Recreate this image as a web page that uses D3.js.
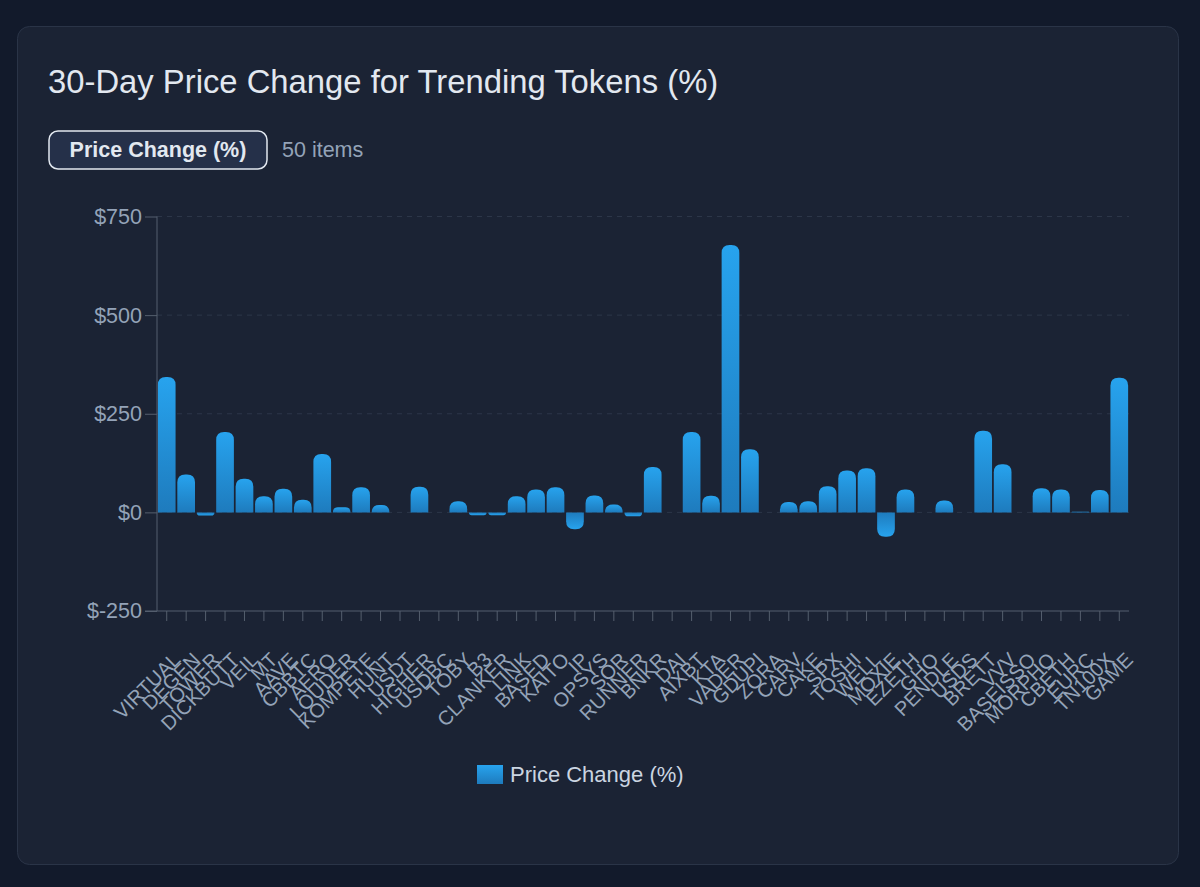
<!DOCTYPE html>
<html>
<head>
<meta charset="utf-8">
<script src="https://cdn.jsdelivr.net/npm/d3@7"></script>
<style>
  html, body { margin: 0; padding: 0; background: #121a2b; }
  svg { display: block; font-family: "Liberation Sans", Arial, Helvetica, sans-serif; }
</style>
</head>
<body>
<script>
/*--- data ---*/
let tokens = ["VIRTUAL","DEGEN","TOWER","DICKBUTT","VEIL","MT","AAVE","CBBTC","AERO","LOUDER",
  "KOMPETE","HUNT","USDT","HIGHER","USDBC","TOBY","B3","CLANKER","LINK","BASED",
  "KAITO","IP","OPSYS","SOR","RUNNER","BNKR","DAI","AIXBT","KTA","VADER",
  "GDUPI","ZORA","CARV","CAKE","SPX","TOSHI","WELL","MOXIE","EZETH","GHO",
  "PENDLE","USDS","BRETT","VVV","BASEISSO","MORPHO","CBETH","EURC","TN100X","GAME"];

let priceChange = [343, 96, -8, 204, 85, 41, 60, 32, 148, 13,
  64, 19, 0, 65, 0, 28, -7, -7, 41, 58,
  64, -43, 43, 20, -10, 115, 0, 204, 42, 678,
  160, 0, 26, 28, 66, 106, 112, -62, 58, 0,
  30, 0, 207, 122, 0, 61, 58, 1.5, 57, 341];

let yTicks = [-250, 0, 250, 500, 750];

let seriesName = "Price Change (%)";
let chartTitle = "30-Day Price Change for Trending Tokens (%)";

/*--- size ---*/
let width = 1200;
let height = 887;
let plot = {left: 157, right: 1129, top: 216.5, bottom: 611};

/*--- scales ---*/
let X = d3.scaleBand().domain(tokens).range([plot.left, plot.right]).paddingInner(0.09).paddingOuter(0.045);
let Y = d3.scaleLinear().domain([-250, 750]).range([plot.bottom, plot.top]);

let svg = d3.select("body")
  .append("svg")
  .attr("width", width)
  .attr("height", height);

// gradients for the bars
let defs = svg.append("defs");
let gUp = defs.append("linearGradient").attr("id", "barUp").attr("x1", 0).attr("y1", 0).attr("x2", 0).attr("y2", 1);
gUp.append("stop").attr("offset", "0%").attr("stop-color", "#27a3ee");
gUp.append("stop").attr("offset", "100%").attr("stop-color", "#1e7bbd");
let gDown = defs.append("linearGradient").attr("id", "barDown").attr("x1", 0).attr("y1", 1).attr("x2", 0).attr("y2", 0);
gDown.append("stop").attr("offset", "0%").attr("stop-color", "#27a3ee");
gDown.append("stop").attr("offset", "100%").attr("stop-color", "#1e7bbd");

/*--- card ---*/
svg.append("rect")
  .attr("x", 17.5).attr("y", 26.5)
  .attr("width", 1161).attr("height", 838)
  .attr("rx", 12)
  .attr("fill", "#1b2334")
  .attr("stroke", "#2a3447")
  .attr("stroke-width", 1);

svg.append("text")
  .attr("x", 48).attr("y", 93)
  .attr("fill", "#e2e8f0")
  .attr("font-size", 32.8)
  .text(chartTitle);

// series button
svg.append("rect")
  .attr("x", 49).attr("y", 131)
  .attr("width", 218).attr("height", 38)
  .attr("rx", 9)
  .attr("fill", "#253049")
  .attr("stroke", "#e2e8f0")
  .attr("stroke-width", 1.5);

svg.append("text")
  .attr("x", 158).attr("y", 157)
  .attr("text-anchor", "middle")
  .attr("fill", "#e2e8f0")
  .attr("font-size", 21.5)
  .attr("font-weight", "bold")
  .text(seriesName);

svg.append("text")
  .attr("x", 282).attr("y", 157)
  .attr("fill", "#94a3b8")
  .attr("font-size", 21.5)
  .text(tokens.length + " items");

/*--- grid ---*/
svg.append("g")
  .selectAll("line")
  .data(yTicks.filter(d => d > -250))
  .join("line")
  .attr("x1", plot.left).attr("x2", plot.right)
  .attr("y1", d => Y(d)).attr("y2", d => Y(d))
  .attr("stroke", "#2c3648")
  .attr("stroke-dasharray", "5,5");

/*--- bars ---*/
function barPath(d, i) {
  let x0 = X(tokens[i]);
  let w = X.bandwidth();
  let y0 = Y(0);
  let y1 = Y(d);
  let h = Math.abs(y1 - y0);
  let r = Math.min(8, h, w / 2);
  if (h < 0.5) return "";
  if (d >= 0) {
    return "M" + x0 + "," + y0 +
      "V" + (y1 + r) +
      "Q" + x0 + "," + y1 + " " + (x0 + r) + "," + y1 +
      "H" + (x0 + w - r) +
      "Q" + (x0 + w) + "," + y1 + " " + (x0 + w) + "," + (y1 + r) +
      "V" + y0 + "Z";
  }
  return "M" + x0 + "," + y0 +
    "V" + (y1 - r) +
    "Q" + x0 + "," + y1 + " " + (x0 + r) + "," + y1 +
    "H" + (x0 + w - r) +
    "Q" + (x0 + w) + "," + y1 + " " + (x0 + w) + "," + (y1 - r) +
    "V" + y0 + "Z";
}

svg.append("g")
  .selectAll("path")
  .data(priceChange)
  .join("path")
  .attr("d", barPath)
  .attr("fill", d => d >= 0 ? "url(#barUp)" : "url(#barDown)");

/*--- axes ---*/
let yEje = d3.axisLeft(Y).tickValues(yTicks).tickSize(12).tickPadding(3).tickFormat(d => "$" + d);
let xEje = d3.axisBottom(X).tickSize(10).tickFormat("");

let yG = svg.append("g")
  .attr("transform", "translate(" + plot.left + ",0)")
  .call(yEje);
yG.select(".domain").attr("stroke", "#555f6e").attr("d", "M0," + plot.top + "V" + plot.bottom);
yG.selectAll(".tick line").attr("stroke", "#555f6e");
yG.selectAll(".tick text")
  .attr("fill", "#94a3b8")
  .attr("font-size", 21.5)
  .attr("font-family", "Liberation Sans, Arial, sans-serif");

let xG = svg.append("g")
  .attr("transform", "translate(0," + plot.bottom + ")")
  .call(xEje);
xG.select(".domain").attr("stroke", "#555f6e").attr("d", "M" + (plot.left - 12) + ",0H" + plot.right);
xG.selectAll(".tick line").attr("stroke", "#555f6e");

// rotated token labels
svg.append("g")
  .selectAll("text")
  .data(tokens)
  .join("text")
  .attr("transform", d => "translate(" + (X(d) + X.bandwidth() / 2 + 15) + ",661) rotate(-45)")
  .attr("text-anchor", "end")
  .attr("fill", "#94a3b8")
  .attr("font-size", 20)
  .text(d => d);

/*--- legend ---*/
svg.append("rect")
  .attr("x", 477).attr("y", 765)
  .attr("width", 26).attr("height", 19)
  .attr("fill", "url(#barUp)");

svg.append("text")
  .attr("x", 510).attr("y", 782)
  .attr("fill", "#cbd5e1")
  .attr("font-size", 22)
  .text(seriesName);
</script>
</body>
</html>
